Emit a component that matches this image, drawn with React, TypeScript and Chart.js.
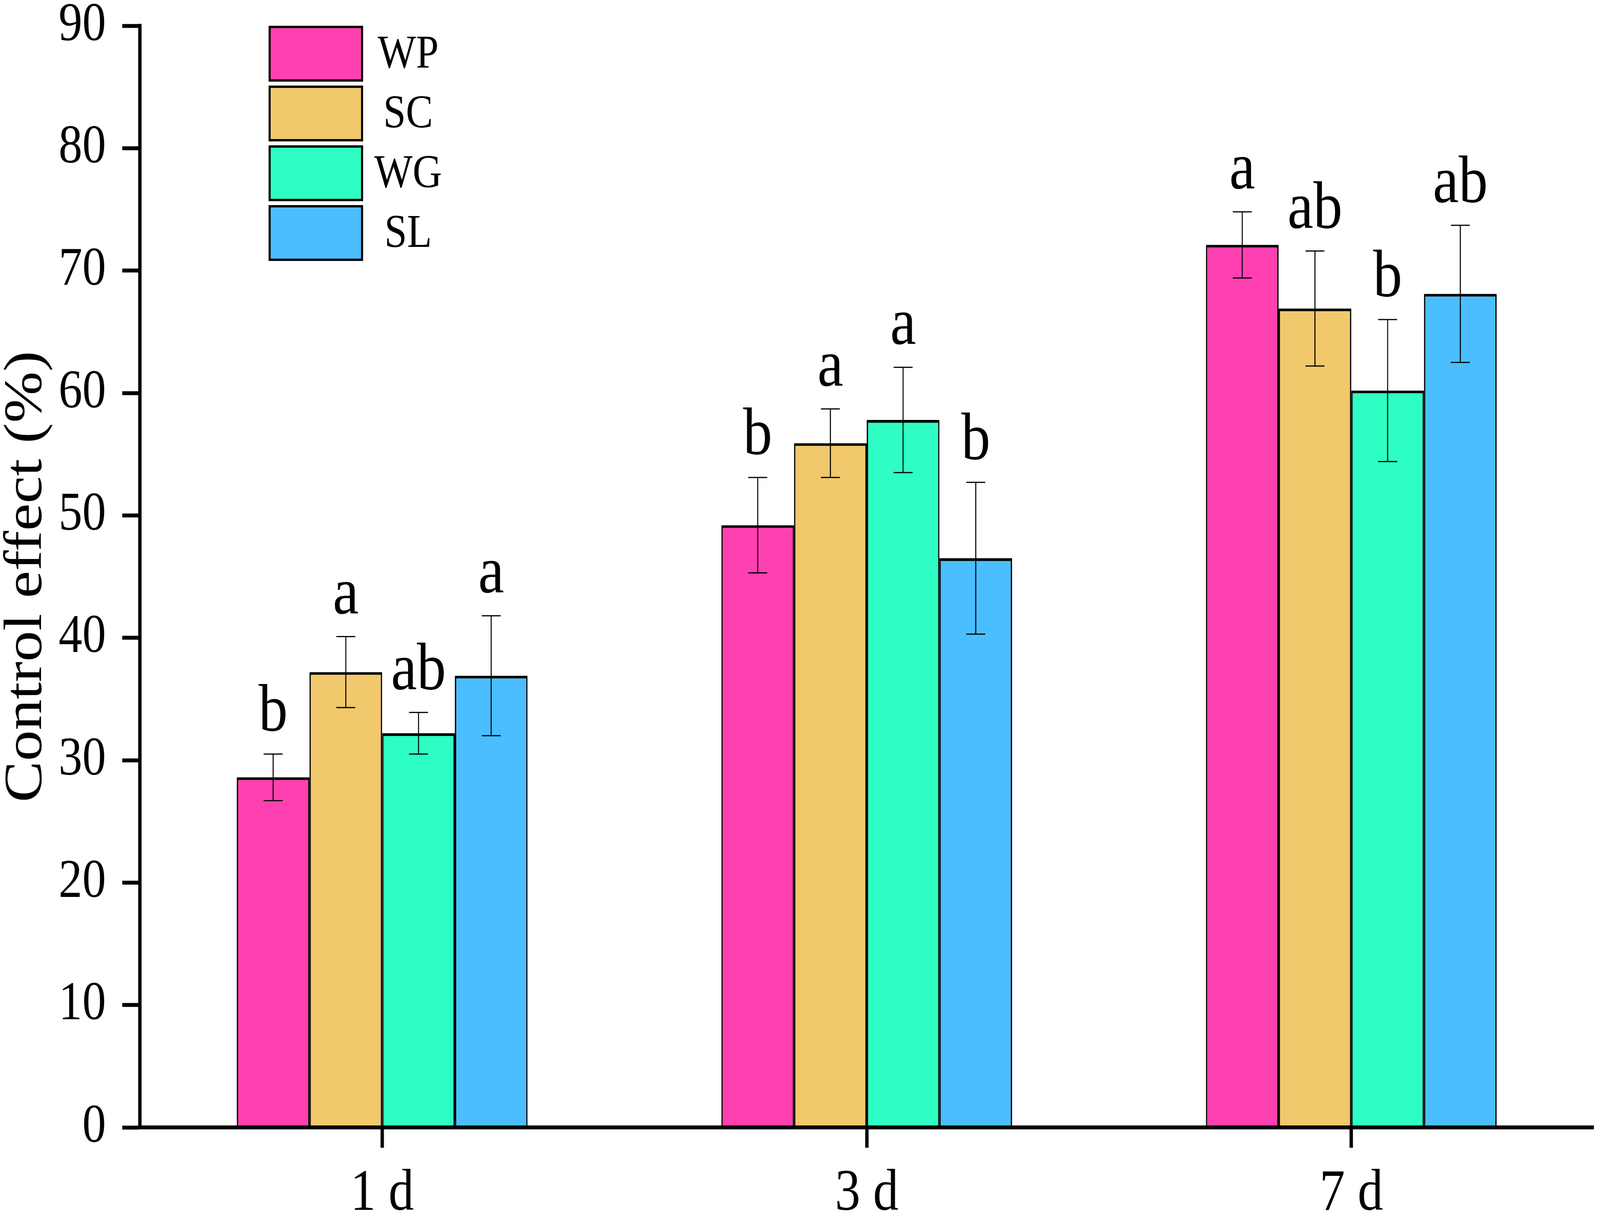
import React, { useEffect, useRef, useState } from 'react';
import { Chart, registerables } from 'chart.js';

Chart.register(...registerables);

// categories and series
const days = ['1 d', '3 d', '7 d'];
const seriesNames = ['WP', 'SC', 'WG', 'SL'];
const seriesColors = ['#FF40B0', '#F1C86B', '#2EFEC3', '#4ABEFF'];

// mean control effect (%)
const wpValues = [28.6, 49.2, 72.1];
const scValues = [37.2, 55.9, 66.9];
const wgValues = [32.2, 57.8, 60.2];
const slValues = [36.9, 46.5, 68.1];

// standard errors
const wpErrors = [1.9, 3.9, 2.7];
const scErrors = [2.9, 2.8, 4.7];
const wgErrors = [1.7, 4.3, 5.8];
const slErrors = [4.9, 6.2, 5.6];

// significance letters
const wpLetters = ['b', 'b', 'a'];
const scLetters = ['a', 'a', 'ab'];
const wgLetters = ['ab', 'a', 'b'];
const slLetters = ['a', 'b', 'ab'];

const FONT = '"Liberation Serif", "Times New Roman", serif';
const W = 4724;
const H = 3123;

const errorBarPlugin = {
  id: 'errorBars',
  afterDatasetsDraw(chart: any) {
    const { ctx } = chart;
    const y = chart.scales.y;
    chart.data.datasets.forEach((ds: any, i: number) => {
      const meta = chart.getDatasetMeta(i);
      meta.data.forEach((bar: any, j: number) => {
        const v = ds.data[j];
        const e = ds.errors[j];
        const top = y.getPixelForValue(v + e);
        const bottom = y.getPixelForValue(v - e);
        const cap = 28;
        ctx.save();
        ctx.strokeStyle = '#000';
        ctx.lineWidth = 3;
        ctx.beginPath();
        ctx.moveTo(bar.x, top);
        ctx.lineTo(bar.x, bottom);
        ctx.moveTo(bar.x - cap, top);
        ctx.lineTo(bar.x + cap, top);
        ctx.moveTo(bar.x - cap, bottom);
        ctx.lineTo(bar.x + cap, bottom);
        ctx.stroke();

        // significance letter above the error bar
        ctx.fillStyle = '#000';
        ctx.font = `172px ${FONT}`;
        ctx.textAlign = 'center';
        ctx.textBaseline = 'alphabetic';
        ctx.fillText(ds.letters[j], bar.x, top - 60);
        ctx.restore();
      });
    });
  },
};

const boxLegendPlugin = {
  id: 'boxLegend',
  afterDraw(chart: any) {
    const { ctx, chartArea } = chart;
    const left = chartArea.left + 383;
    const boxW = 273;
    const boxH = 137;
    const step = 153;
    const top0 = 69;
    ctx.save();
    chart.data.datasets.forEach((ds: any, i: number) => {
      const top = top0 + i * step;
      ctx.fillStyle = ds.backgroundColor;
      ctx.fillRect(left, top, boxW, boxH);
      ctx.strokeStyle = '#000';
      ctx.lineWidth = 6;
      ctx.strokeRect(left, top, boxW, boxH);
      ctx.fillStyle = '#000';
      ctx.font = `120px ${FONT}`;
      ctx.textAlign = 'center';
      ctx.textBaseline = 'middle';
      ctx.fillText(ds.label, left + boxW + 136, top + boxH / 2 + 4);
    });
    ctx.restore();
  },
};

const App: React.FC = () => {
  const chartRef = useRef<HTMLCanvasElement | null>(null);
  const chartInstance = useRef<Chart | null>(null);
  // the window may be narrower than the figure; draw at full size and fit it by css
  const [fit] = useState(() => ({ sx: window.innerWidth / W, sy: window.innerHeight / H }));

  useEffect(() => {
    if (chartInstance.current) {
      chartInstance.current.destroy();
    }
    const ctx = chartRef.current?.getContext('2d');
    if (!ctx) return;

    const values = [wpValues, scValues, wgValues, slValues];
    const errors = [wpErrors, scErrors, wgErrors, slErrors];
    const letters = [wpLetters, scLetters, wgLetters, slLetters];

    chartInstance.current = new Chart(ctx, {
      type: 'bar',
      data: {
        labels: days,
        datasets: seriesNames.map((name, i) => ({
          label: name,
          data: values[i],
          errors: errors[i],
          letters: letters[i],
          backgroundColor: seriesColors[i],
          borderColor: '#000',
          borderWidth: { top: 7, left: 4, right: 4, bottom: 0 },
          borderSkipped: false,
          barPercentage: 1,
          categoryPercentage: 0.6,
        })) as any,
      },
      options: {
        animation: false,
        responsive: false,
        devicePixelRatio: 1,
        layout: { padding: { top: 66, right: 19, bottom: 0, left: 0 } },
        plugins: {
          legend: { display: false },
          tooltip: { enabled: false },
        },
        scales: {
          x: {
            offset: true,
            grid: {
              offset: false,
              drawOnChartArea: false,
              tickLength: 52,
              tickWidth: 10,
              color: '#000',
            },
            border: { display: true, width: 10, color: '#000', z: 1 },
            ticks: { color: '#000', font: { family: FONT, size: 150 }, padding: 30 },
            afterFit: (s: any) => {
              s.height = 237;
              s.paddingLeft = 0;
              s.paddingRight = 0;
            },
          },
          y: {
            min: 0,
            max: 90,
            ticks: { stepSize: 10, color: '#000', font: { family: FONT, size: 140 }, padding: 48 },
            grid: {
              drawOnChartArea: false,
              tickLength: 52,
              tickWidth: 10,
              color: '#000',
            },
            border: { display: true, width: 10, color: '#000', z: 1 },
            title: {
              display: true,
              text: 'Control effect (%)',
              color: '#000',
              font: { family: FONT, size: 158, lineHeight: 1 },
              padding: 0,
            },
            afterFit: (s: any) => {
              s.width = 413;
              s.paddingTop = 0;
              s.paddingBottom = 0;
            },
          },
        },
      },
      plugins: [errorBarPlugin, boxLegendPlugin],
    });

    return () => {
      if (chartInstance.current) {
        chartInstance.current.destroy();
        chartInstance.current = null;
      }
    };
  }, []);

  return (
    <div
      style={{
        position: 'absolute',
        left: 0,
        top: 0,
        width: '100vw',
        height: '100vh',
        overflow: 'hidden',
        background: '#fff',
      }}
    >
      <div
        style={{
          width: `${W}px`,
          height: `${H}px`,
          transform: `scale(${fit.sx}, ${fit.sy})`,
          transformOrigin: '0 0',
        }}
      >
        <canvas ref={chartRef} width={W} height={H} style={{ display: 'block' }} />
      </div>
    </div>
  );
};

export default App;
